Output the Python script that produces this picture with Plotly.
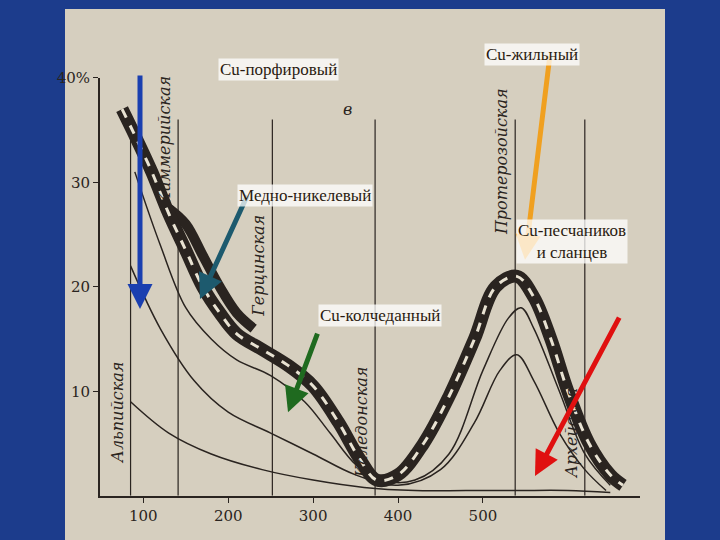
import plotly.graph_objects as go

ages_main = [75, 90, 110, 130, 150, 170, 190, 210, 240, 270, 300, 330, 355, 375, 400, 430, 460, 490, 515, 540, 560, 580, 600, 625, 650, 665]
vals_main = [37, 34.5, 31, 27, 23.5, 20, 17.5, 15.5, 14, 12.5, 10.5, 7, 3.5, 1.5, 2, 5, 9.5, 15, 20, 21, 19, 15, 10, 5, 2, 1]
ages_upper = [130, 150, 170, 190, 210, 230]
vals_upper = [27.5, 26, 23, 20, 17.5, 16]
ages_thin1 = [90, 120, 150, 180, 210, 250, 290, 320, 350, 380, 420, 460, 500, 530, 545, 560, 590, 620, 650]
vals_thin1 = [31, 24, 18, 15, 13, 11.5, 9, 6, 3, 1.5, 1.5, 4, 12, 17, 18, 16, 10, 4, 1]
ages_thin2 = [85, 120, 160, 200, 250, 300, 350, 400, 450, 490, 520, 540, 560, 590, 620, 645]
vals_thin2 = [22, 16, 11, 8, 6, 4, 2, 1, 2.5, 7, 12, 13.5, 11, 6, 2.5, 0.5]
ages_thin3 = [85, 130, 180, 240, 300, 360, 420, 480, 540, 600, 650]
vals_thin3 = [9, 6, 4, 2.5, 1.5, 0.8, 0.5, 0.5, 0.5, 0.5, 0.3]
x_ticks = [100, 200, 300, 400, 500]
y_ticks = [10, 20, 30, 40]
y_labels = ["10", "20", "30", "40%"]
era_ages = [85, 141, 252, 373, 538, 620]
era_names = ["Альпийская", "Киммерийская", "Герцинская", "Каледонская", "Протерозойская", "Архейская"]
era_label_y = [8, 34, 22, 7, 32, 6]

ink = "#2a2420"
fig = go.Figure()
for a in era_ages:
    fig.add_trace(go.Scatter(x=[a, a], y=[0, 36], mode="lines", line=dict(color=ink, width=1.2), showlegend=False))
for xs, ys in [(ages_thin1, vals_thin1), (ages_thin2, vals_thin2), (ages_thin3, vals_thin3)]:
    fig.add_trace(go.Scatter(x=xs, y=ys, mode="lines", line=dict(color=ink, width=1.5, shape="spline"), showlegend=False))
fig.add_trace(go.Scatter(x=ages_upper, y=vals_upper, mode="lines", line=dict(color=ink, width=10, shape="spline"), showlegend=False))
fig.add_trace(go.Scatter(x=ages_main, y=vals_main, mode="lines", line=dict(color=ink, width=13, shape="spline"), showlegend=False))
fig.add_trace(go.Scatter(x=ages_main, y=vals_main, mode="lines", line=dict(color="#e8e2d2", width=3, dash="dash", shape="spline"), showlegend=False))

for a, n, yy in zip(era_ages, era_names, era_label_y):
    fig.add_annotation(x=a, y=yy, text="<i>" + n + "</i>", textangle=-90, showarrow=False, xanchor="right", xshift=-2,
                       font=dict(size=16, color=ink, family="DejaVu Serif"))
fig.add_annotation(x=530, y=-1.5, yanchor="top", text="<i>млн. лет</i>", showarrow=False, font=dict(size=14, color=ink, family="DejaVu Serif"))
fig.add_annotation(x=340, y=37, text="<i>в</i>", showarrow=False, font=dict(size=16, color=ink, family="DejaVu Serif"))

labels = [
    ("Cu-порфировый", 218, 50, 140, 70, 140, 305, "#1a3fb0"),
    ("Медно-никелевый", 305, 178, 248, 190, 200, 295, "#1d5a6e"),
    ("Cu-колчеданный", 380, 312, 318, 330, 288, 410, "#1f6a1f"),
    ("Cu-жильный", 580, 35, 550, 50, 525, 255, "#f0a020"),
    ("Cu-песчаников<br>и сланцев", 628, 236, 620, 315, 535, 475, "#e01010"),
]
for t, tx, ty, x0, y0, x1, y1, c in labels:
    fig.add_annotation(xref="paper", yref="paper", x=x1/720, y=1-y1/540, ax=x0-x1, ay=y0-y1,
                       text="", showarrow=True, arrowhead=2, arrowsize=1, arrowwidth=5, arrowcolor=c)
for t, tx, ty, x0, y0, x1, y1, c in labels:
    fig.add_annotation(xref="paper", yref="paper", x=tx/720, y=1-ty/540, text=t, showarrow=False,
                       bgcolor="rgba(255,255,255,0.75)", font=dict(size=17, color="#2a1a10", family="Liberation Serif"))

fig.update_layout(
    width=720, height=540, margin=dict(l=0, r=0, t=0, b=0),
    paper_bgcolor="#1c3c8c", plot_bgcolor="rgba(0,0,0,0)",
    shapes=[dict(type="rect", xref="paper", yref="paper", x0=65/720, x1=665/720, y0=0, y1=1,
                 fillcolor="#d6cfbf", line=dict(width=0), layer="below")],
    xaxis=dict(domain=[100/720, 640/720], range=[49, 685], tickvals=x_ticks, showgrid=False, zeroline=False,
               showline=True, linecolor=ink, linewidth=2, ticks="outside", tickcolor=ink,
               tickfont=dict(size=15, color=ink, family="DejaVu Serif")),
    yaxis=dict(domain=[45/540, 470/540], range=[0, 40], tickvals=y_ticks, ticktext=y_labels, showgrid=False,
               zeroline=False, showline=True, linecolor=ink, linewidth=2, ticks="outside", tickcolor=ink,
               tickfont=dict(size=15, color=ink, family="DejaVu Serif")),
)
fig.write_html("out.html", config={"displayModeBar": False},
               post_script="document.body.style.margin='0';document.body.style.overflow='hidden';")
